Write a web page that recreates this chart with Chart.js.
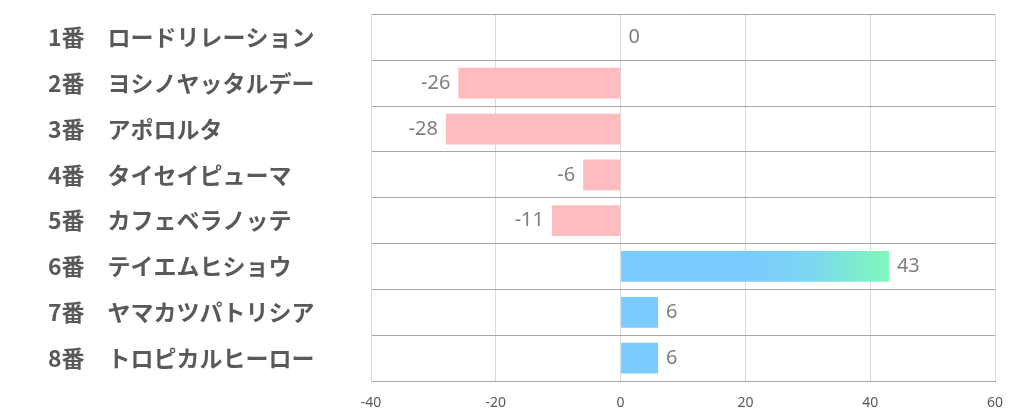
<!DOCTYPE html>
<html>
<head>
<meta charset="utf-8">
<script src="https://cdn.jsdelivr.net/npm/chart.js@4/dist/chart.umd.min.js"></script>
<style>
  html, body { margin: 0; padding: 0; background: #fff; }
  #wrap { width: 1022px; height: 417px; }
</style>
</head>
<body>
<div id="wrap"><canvas id="horseChart"></canvas></div>
<script>
  const horseNos = ["1番", "2番", "3番", "4番", "5番", "6番", "7番", "8番"];
  const horseNames = [
    "ロードリレーション",
    "ヨシノヤッタルデー",
    "アポロルタ",
    "タイセイピューマ",
    "カフェベラノッテ",
    "テイエムヒショウ",
    "ヤマカツパトリシア",
    "トロピカルヒーロー",
  ];
  const scores = [0, -26, -28, -6, -11, 43, 6, 6];
  const xTicks = [-40, -20, 0, 20, 40, 60];
  const highlightIndex = 5;

  const pink = "rgb(255, 188, 191)";
  const blue = "rgb(122, 203, 255)";

  const labels = horseNos.map((n, i) => n + "\u3000" + horseNames[i]);

  // value labels at the end of each bar
  const valueLabels = {
    id: "valueLabels",
    afterDatasetsDraw(chart) {
      const { ctx } = chart;
      const meta = chart.getDatasetMeta(0);
      ctx.save();
      ctx.font = "20px 'Noto Sans', sans-serif";
      ctx.fillStyle = "#7f7f7f";
      ctx.textBaseline = "middle";
      meta.data.forEach((bar, i) => {
        const v = scores[i];
        if (v < 0) {
          ctx.textAlign = "right";
          ctx.fillText(String(v), bar.x - 8, bar.y);
        } else {
          ctx.textAlign = "left";
          ctx.fillText(String(v), bar.x + 8, bar.y);
        }
      });
      ctx.restore();
    },
  };

  new Chart(document.querySelector("#horseChart"), {
    type: "bar",
    data: {
      labels: labels,
      datasets: [
        {
          data: scores,
          backgroundColor: (c) => {
            const v = scores[c.dataIndex];
            if (v < 0) return pink;
            const area = c.chart.chartArea;
            if (c.dataIndex === highlightIndex && area) {
              const x = c.chart.scales.x;
              const g = c.chart.ctx.createLinearGradient(
                x.getPixelForValue(20), 0, x.getPixelForValue(v), 0
              );
              g.addColorStop(0, blue);
              g.addColorStop(0.45, "rgb(125, 214, 240)");
              g.addColorStop(1, "rgb(125, 250, 185)");
              return g;
            }
            return blue;
          },
          borderWidth: 0,
          barPercentage: 0.67,
          categoryPercentage: 1,
        },
      ],
    },
    options: {
      indexAxis: "y",
      responsive: true,
      maintainAspectRatio: false,
      animation: false,
      layout: {
        padding: { left: 48, right: 27, top: 13, bottom: 0 },
      },
      plugins: {
        legend: { display: false },
        tooltip: { enabled: false },
      },
      scales: {
        x: {
          min: -40,
          max: 60,
          afterBuildTicks: (axis) => {
            axis.ticks = xTicks.map((v) => ({ value: v }));
          },
          afterFit: (axis) => {
            axis.height = 36;
          },
          grid: { color: "#d9d9d9", drawTicks: false },
          border: { color: "#a6a6a6" },
          ticks: {
            padding: 14,
            color: "#595959",
            font: { family: "'Noto Sans', sans-serif", size: 14 },
          },
        },
        y: {
          afterFit: (axis) => {
            axis.width = 323;
          },
          grid: { color: "#a6a6a6", drawTicks: false },
          border: { color: "#d9d9d9" },
          ticks: {
            crossAlign: "far",
            color: "#595959",
            font: {
              family: "'Noto Sans CJK JP', sans-serif",
              size: 23,
              weight: "bold",
              lineHeight: 1,
            },
          },
        },
      },
    },
    plugins: [valueLabels],
  });
</script>
</body>
</html>
